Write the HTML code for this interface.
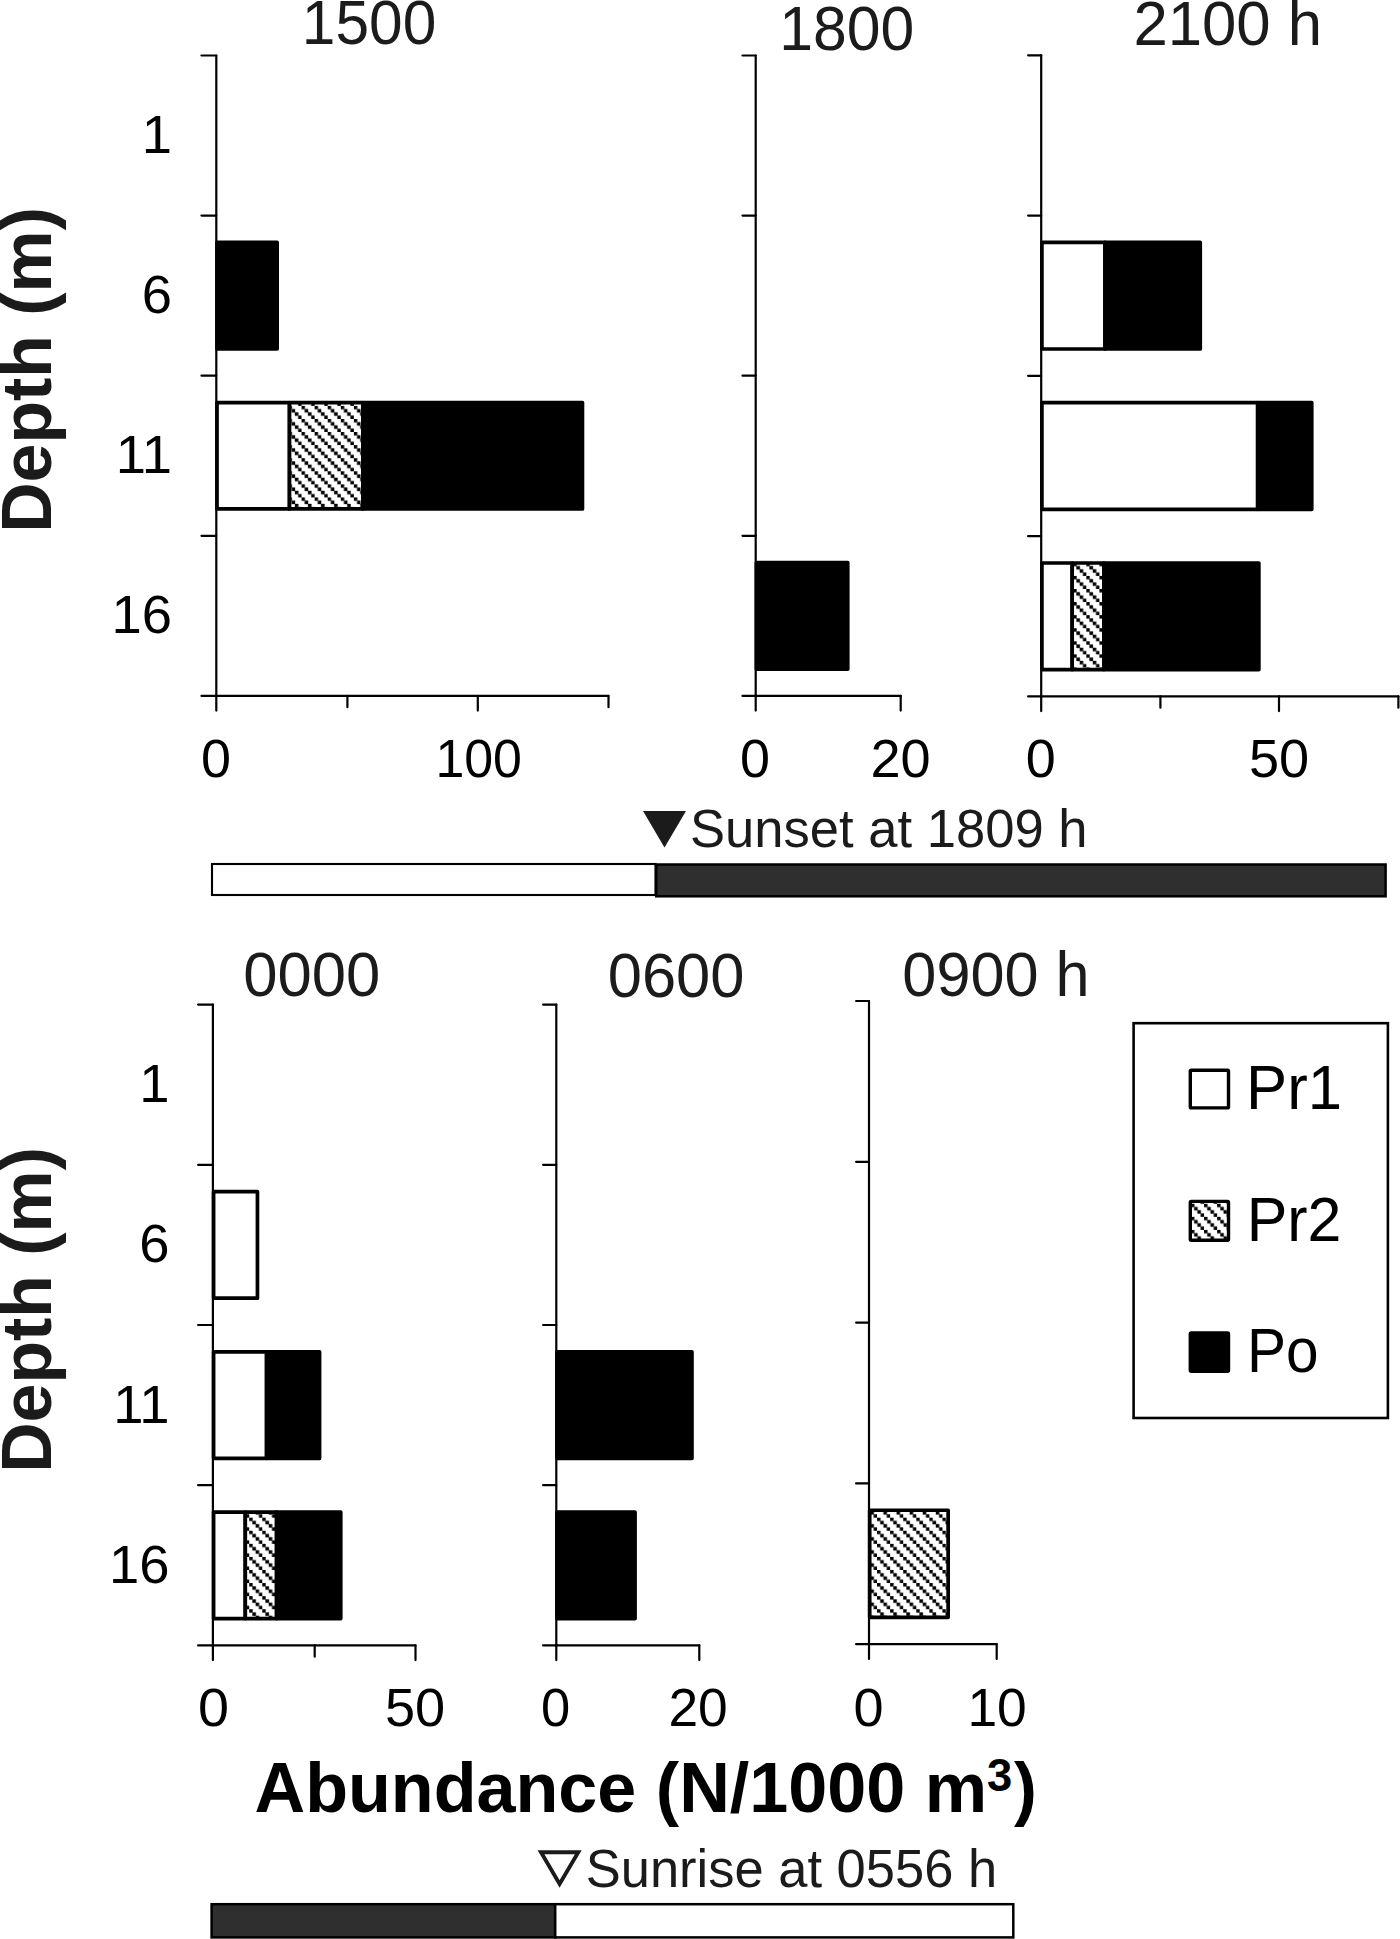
<!DOCTYPE html>
<html><head><meta charset="utf-8"><title>Depth distribution by time</title>
<style>html,body{margin:0;padding:0;background:#fff}svg{display:block}</style></head>
<body><svg width="1400" height="1939" viewBox="0 0 1400 1939">
<defs>
<pattern id="hatch" patternUnits="userSpaceOnUse" width="13.08" height="13.08" x="0.7" y="0.4"><rect width="13.08" height="13.08" fill="#fff"/><rect x="-0.150" y="-0.150" width="3.570" height="3.570" fill="#000"/><rect x="3.120" y="3.120" width="3.570" height="3.570" fill="#000"/><rect x="6.390" y="6.390" width="3.570" height="3.570" fill="#000"/><rect x="9.660" y="9.660" width="3.570" height="3.570" fill="#000"/><rect x="12.930" y="12.930" width="0.3" height="0.3" fill="#000"/></pattern>
</defs>
<rect width="1400" height="1939" fill="#fff"/>
<line x1="201.50" y1="55.50" x2="216.30" y2="55.50" stroke="#000" stroke-width="2.2" stroke-linecap="round"/>
<line x1="201.50" y1="215.60" x2="216.30" y2="215.60" stroke="#000" stroke-width="2.2" stroke-linecap="round"/>
<line x1="201.50" y1="375.70" x2="216.30" y2="375.70" stroke="#000" stroke-width="2.2" stroke-linecap="round"/>
<line x1="201.50" y1="535.80" x2="216.30" y2="535.80" stroke="#000" stroke-width="2.2" stroke-linecap="round"/>
<line x1="201.50" y1="695.90" x2="216.30" y2="695.90" stroke="#000" stroke-width="2.2" stroke-linecap="round"/>
<line x1="216.30" y1="695.90" x2="608.50" y2="695.90" stroke="#000" stroke-width="2.2" stroke-linecap="round"/>
<line x1="216.30" y1="695.90" x2="216.30" y2="710.60" stroke="#000" stroke-width="2.2" stroke-linecap="round"/>
<line x1="347.40" y1="695.90" x2="347.40" y2="707.20" stroke="#000" stroke-width="2.2" stroke-linecap="round"/>
<line x1="477.80" y1="695.90" x2="477.80" y2="710.60" stroke="#000" stroke-width="2.2" stroke-linecap="round"/>
<line x1="608.50" y1="695.90" x2="608.50" y2="707.20" stroke="#000" stroke-width="2.2" stroke-linecap="round"/>
<line x1="216.30" y1="55.50" x2="216.30" y2="695.90" stroke="#000" stroke-width="2.2" stroke-linecap="round"/>
<rect x="217.00" y="242.45" width="60.15" height="106.40" fill="#000" stroke="#000" stroke-width="3.7" stroke-linejoin="round"/>
<rect x="217.00" y="402.55" width="72.50" height="106.40" fill="#fff" stroke="#000" stroke-width="3.7" stroke-linejoin="round"/>
<rect x="289.50" y="402.55" width="73.40" height="106.40" fill="url(#hatch)" stroke="#000" stroke-width="3.7" stroke-linejoin="round"/>
<rect x="362.90" y="402.55" width="219.55" height="106.40" fill="#000" stroke="#000" stroke-width="3.7" stroke-linejoin="round"/>
<line x1="742.50" y1="55.50" x2="755.70" y2="55.50" stroke="#000" stroke-width="2.2" stroke-linecap="round"/>
<line x1="742.50" y1="215.60" x2="755.70" y2="215.60" stroke="#000" stroke-width="2.2" stroke-linecap="round"/>
<line x1="742.50" y1="375.70" x2="755.70" y2="375.70" stroke="#000" stroke-width="2.2" stroke-linecap="round"/>
<line x1="742.50" y1="535.80" x2="755.70" y2="535.80" stroke="#000" stroke-width="2.2" stroke-linecap="round"/>
<line x1="742.50" y1="695.90" x2="755.70" y2="695.90" stroke="#000" stroke-width="2.2" stroke-linecap="round"/>
<line x1="755.70" y1="695.90" x2="900.70" y2="695.90" stroke="#000" stroke-width="2.2" stroke-linecap="round"/>
<line x1="755.70" y1="695.90" x2="755.70" y2="710.60" stroke="#000" stroke-width="2.2" stroke-linecap="round"/>
<line x1="900.70" y1="695.90" x2="900.70" y2="710.60" stroke="#000" stroke-width="2.2" stroke-linecap="round"/>
<line x1="755.70" y1="55.50" x2="755.70" y2="695.90" stroke="#000" stroke-width="2.2" stroke-linecap="round"/>
<rect x="756.40" y="562.65" width="91.35" height="106.40" fill="#000" stroke="#000" stroke-width="3.7" stroke-linejoin="round"/>
<line x1="1028.10" y1="55.30" x2="1041.20" y2="55.30" stroke="#000" stroke-width="2.2" stroke-linecap="round"/>
<line x1="1028.10" y1="215.58" x2="1041.20" y2="215.58" stroke="#000" stroke-width="2.2" stroke-linecap="round"/>
<line x1="1028.10" y1="375.86" x2="1041.20" y2="375.86" stroke="#000" stroke-width="2.2" stroke-linecap="round"/>
<line x1="1028.10" y1="536.14" x2="1041.20" y2="536.14" stroke="#000" stroke-width="2.2" stroke-linecap="round"/>
<line x1="1028.10" y1="696.42" x2="1041.20" y2="696.42" stroke="#000" stroke-width="2.2" stroke-linecap="round"/>
<line x1="1041.20" y1="696.42" x2="1398.40" y2="696.42" stroke="#000" stroke-width="2.2" stroke-linecap="round"/>
<line x1="1041.20" y1="696.42" x2="1041.20" y2="711.12" stroke="#000" stroke-width="2.2" stroke-linecap="round"/>
<line x1="1160.40" y1="696.42" x2="1160.40" y2="707.72" stroke="#000" stroke-width="2.2" stroke-linecap="round"/>
<line x1="1279.00" y1="696.42" x2="1279.00" y2="711.12" stroke="#000" stroke-width="2.2" stroke-linecap="round"/>
<line x1="1398.40" y1="696.42" x2="1398.40" y2="707.72" stroke="#000" stroke-width="2.2" stroke-linecap="round"/>
<line x1="1041.20" y1="55.30" x2="1041.20" y2="696.42" stroke="#000" stroke-width="2.2" stroke-linecap="round"/>
<rect x="1041.90" y="242.43" width="63.10" height="106.58" fill="#fff" stroke="#000" stroke-width="3.7" stroke-linejoin="round"/>
<rect x="1105.00" y="242.43" width="95.25" height="106.58" fill="#000" stroke="#000" stroke-width="3.7" stroke-linejoin="round"/>
<rect x="1041.90" y="402.71" width="215.80" height="106.58" fill="#fff" stroke="#000" stroke-width="3.7" stroke-linejoin="round"/>
<rect x="1257.70" y="402.71" width="54.05" height="106.58" fill="#000" stroke="#000" stroke-width="3.7" stroke-linejoin="round"/>
<rect x="1041.90" y="562.99" width="30.30" height="106.58" fill="#fff" stroke="#000" stroke-width="3.7" stroke-linejoin="round"/>
<rect x="1072.20" y="562.99" width="31.70" height="106.58" fill="url(#hatch)" stroke="#000" stroke-width="3.7" stroke-linejoin="round"/>
<rect x="1103.90" y="562.99" width="154.95" height="106.58" fill="#000" stroke="#000" stroke-width="3.7" stroke-linejoin="round"/>
<line x1="198.10" y1="1004.60" x2="212.90" y2="1004.60" stroke="#000" stroke-width="2.2" stroke-linecap="round"/>
<line x1="198.10" y1="1164.80" x2="212.90" y2="1164.80" stroke="#000" stroke-width="2.2" stroke-linecap="round"/>
<line x1="198.10" y1="1325.00" x2="212.90" y2="1325.00" stroke="#000" stroke-width="2.2" stroke-linecap="round"/>
<line x1="198.10" y1="1485.20" x2="212.90" y2="1485.20" stroke="#000" stroke-width="2.2" stroke-linecap="round"/>
<line x1="198.10" y1="1645.40" x2="212.90" y2="1645.40" stroke="#000" stroke-width="2.2" stroke-linecap="round"/>
<line x1="212.90" y1="1645.40" x2="415.50" y2="1645.40" stroke="#000" stroke-width="2.2" stroke-linecap="round"/>
<line x1="212.90" y1="1645.40" x2="212.90" y2="1660.10" stroke="#000" stroke-width="2.2" stroke-linecap="round"/>
<line x1="314.70" y1="1645.40" x2="314.70" y2="1656.70" stroke="#000" stroke-width="2.2" stroke-linecap="round"/>
<line x1="415.50" y1="1645.40" x2="415.50" y2="1660.10" stroke="#000" stroke-width="2.2" stroke-linecap="round"/>
<line x1="212.90" y1="1004.60" x2="212.90" y2="1645.40" stroke="#000" stroke-width="2.2" stroke-linecap="round"/>
<rect x="213.60" y="1191.65" width="43.85" height="106.50" fill="#fff" stroke="#000" stroke-width="3.7" stroke-linejoin="round"/>
<rect x="213.60" y="1351.85" width="53.00" height="106.50" fill="#fff" stroke="#000" stroke-width="3.7" stroke-linejoin="round"/>
<rect x="266.60" y="1351.85" width="52.95" height="106.50" fill="#000" stroke="#000" stroke-width="3.7" stroke-linejoin="round"/>
<rect x="213.60" y="1512.05" width="31.70" height="106.50" fill="#fff" stroke="#000" stroke-width="3.7" stroke-linejoin="round"/>
<rect x="245.30" y="1512.05" width="31.30" height="106.50" fill="url(#hatch)" stroke="#000" stroke-width="3.7" stroke-linejoin="round"/>
<rect x="276.60" y="1512.05" width="64.15" height="106.50" fill="#000" stroke="#000" stroke-width="3.7" stroke-linejoin="round"/>
<line x1="543.10" y1="1004.60" x2="556.30" y2="1004.60" stroke="#000" stroke-width="2.2" stroke-linecap="round"/>
<line x1="543.10" y1="1164.80" x2="556.30" y2="1164.80" stroke="#000" stroke-width="2.2" stroke-linecap="round"/>
<line x1="543.10" y1="1325.00" x2="556.30" y2="1325.00" stroke="#000" stroke-width="2.2" stroke-linecap="round"/>
<line x1="543.10" y1="1485.20" x2="556.30" y2="1485.20" stroke="#000" stroke-width="2.2" stroke-linecap="round"/>
<line x1="543.10" y1="1645.40" x2="556.30" y2="1645.40" stroke="#000" stroke-width="2.2" stroke-linecap="round"/>
<line x1="556.30" y1="1645.40" x2="699.30" y2="1645.40" stroke="#000" stroke-width="2.2" stroke-linecap="round"/>
<line x1="556.30" y1="1645.40" x2="556.30" y2="1660.10" stroke="#000" stroke-width="2.2" stroke-linecap="round"/>
<line x1="699.30" y1="1645.40" x2="699.30" y2="1660.10" stroke="#000" stroke-width="2.2" stroke-linecap="round"/>
<line x1="556.30" y1="1004.60" x2="556.30" y2="1645.40" stroke="#000" stroke-width="2.2" stroke-linecap="round"/>
<rect x="557.00" y="1351.85" width="134.95" height="106.50" fill="#000" stroke="#000" stroke-width="3.7" stroke-linejoin="round"/>
<rect x="557.00" y="1512.05" width="78.05" height="106.50" fill="#000" stroke="#000" stroke-width="3.7" stroke-linejoin="round"/>
<line x1="856.10" y1="1001.00" x2="869.00" y2="1001.00" stroke="#000" stroke-width="2.2" stroke-linecap="round"/>
<line x1="856.10" y1="1161.80" x2="869.00" y2="1161.80" stroke="#000" stroke-width="2.2" stroke-linecap="round"/>
<line x1="856.10" y1="1322.60" x2="869.00" y2="1322.60" stroke="#000" stroke-width="2.2" stroke-linecap="round"/>
<line x1="856.10" y1="1483.40" x2="869.00" y2="1483.40" stroke="#000" stroke-width="2.2" stroke-linecap="round"/>
<line x1="856.10" y1="1644.20" x2="869.00" y2="1644.20" stroke="#000" stroke-width="2.2" stroke-linecap="round"/>
<line x1="869.00" y1="1644.20" x2="996.70" y2="1644.20" stroke="#000" stroke-width="2.2" stroke-linecap="round"/>
<line x1="869.00" y1="1644.20" x2="869.00" y2="1658.90" stroke="#000" stroke-width="2.2" stroke-linecap="round"/>
<line x1="996.70" y1="1644.20" x2="996.70" y2="1658.90" stroke="#000" stroke-width="2.2" stroke-linecap="round"/>
<line x1="869.00" y1="1001.00" x2="869.00" y2="1644.20" stroke="#000" stroke-width="2.2" stroke-linecap="round"/>
<rect x="869.70" y="1510.25" width="78.45" height="107.10" fill="url(#hatch)" stroke="#000" stroke-width="3.7" stroke-linejoin="round"/>
<rect x="212.0" y="864.0" width="443.5" height="31.0" fill="#fff" stroke="#000" stroke-width="2.1"/>
<rect x="656.2" y="864.5" width="729.4" height="31.8" fill="#2f2f2f" stroke="#000" stroke-width="2.5"/>
<polygon points="643,811 686,811 664.5,847.5" fill="#1b1b1b"/>
<rect x="211.6" y="1904.2" width="343.6" height="33.2" fill="#2f2f2f" stroke="#000" stroke-width="2.5"/>
<rect x="555.2" y="1904.2" width="458.1" height="33.2" fill="#fff" stroke="#000" stroke-width="2.5"/>
<polygon points="541.0,1852.2 578.3,1852.2 559.6,1884.0" fill="none" stroke="#1b1b1b" stroke-width="3.9" stroke-linejoin="miter"/>
<rect x="1133.6" y="1023.2" width="254.3" height="394.8" fill="#fff" stroke="#000" stroke-width="2.6"/>
<rect x="1190.30" y="1070.20" width="38.20" height="37.70" fill="#fff" stroke="#000" stroke-width="3.4" rx="1"/>
<rect x="1190.30" y="1201.40" width="38.20" height="38.80" fill="url(#hatch)" stroke="#000" stroke-width="3.4" rx="1"/>
<rect x="1190.30" y="1332.90" width="38.20" height="38.40" fill="#000" stroke="#000" stroke-width="3.4" rx="1"/>
<g font-family='"Liberation Sans", sans-serif'>
<text x="301.83" y="43.70" font-size="62.5" font-weight="normal" fill="#1b1b1b" textLength="134.45" lengthAdjust="spacingAndGlyphs">1500</text>
<text x="779.21" y="49.90" font-size="62.3" font-weight="normal" fill="#1b1b1b" textLength="134.95" lengthAdjust="spacingAndGlyphs">1800</text>
<text x="1133.43" y="44.70" font-size="62.3" font-weight="normal" fill="#1b1b1b" textLength="188.68" lengthAdjust="spacingAndGlyphs">2100 h</text>
<text x="243.25" y="996.20" font-size="63" font-weight="normal" fill="#1b1b1b" textLength="136.96" lengthAdjust="spacingAndGlyphs">0000</text>
<text x="607.76" y="997.10" font-size="63.2" font-weight="normal" fill="#1b1b1b" textLength="136.68" lengthAdjust="spacingAndGlyphs">0600</text>
<text x="902.35" y="996.20" font-size="62.7" font-weight="normal" fill="#1b1b1b" textLength="187.32" lengthAdjust="spacingAndGlyphs">0900 h</text>
<text x="690.03" y="846.70" font-size="53.5" font-weight="normal" fill="#1b1b1b" textLength="397.47" lengthAdjust="spacingAndGlyphs">Sunset at 1809 h</text>
<text x="585.71" y="1887.30" font-size="54.5" font-weight="normal" fill="#1b1b1b" textLength="411.39" lengthAdjust="spacingAndGlyphs">Sunrise at 0556 h</text>
<text x="254.50" y="1811.90" font-size="70" font-weight="bold" fill="#000" textLength="732.62" lengthAdjust="spacingAndGlyphs">Abundance (N/1000 m</text>
<text x="986.93" y="1791.30" font-size="47" font-weight="bold" fill="#000" textLength="25.27" lengthAdjust="spacingAndGlyphs">3</text>
<text x="1013.90" y="1811.90" font-size="70" font-weight="bold" fill="#000" textLength="22.85" lengthAdjust="spacingAndGlyphs">)</text>
<text x="1246.11" y="1109.20" font-size="63" font-weight="normal" fill="#000" textLength="95.98" lengthAdjust="spacingAndGlyphs">Pr1</text>
<text x="1246.77" y="1240.70" font-size="63" font-weight="normal" fill="#000" textLength="94.67" lengthAdjust="spacingAndGlyphs">Pr2</text>
<text x="1246.96" y="1372.30" font-size="63" font-weight="normal" fill="#000" textLength="71.56" lengthAdjust="spacingAndGlyphs">Po</text>
<text x="201.02" y="776.80" font-size="54.5" font-weight="normal" fill="#000" textLength="29.98" lengthAdjust="spacingAndGlyphs">0</text>
<text x="435.39" y="776.80" font-size="54.5" font-weight="normal" fill="#000" textLength="86.55" lengthAdjust="spacingAndGlyphs">100</text>
<text x="740.02" y="776.80" font-size="54.5" font-weight="normal" fill="#000" textLength="29.98" lengthAdjust="spacingAndGlyphs">0</text>
<text x="870.41" y="776.80" font-size="54.5" font-weight="normal" fill="#000" textLength="60.20" lengthAdjust="spacingAndGlyphs">20</text>
<text x="1025.82" y="776.80" font-size="54.5" font-weight="normal" fill="#000" textLength="29.98" lengthAdjust="spacingAndGlyphs">0</text>
<text x="1249.01" y="776.80" font-size="54.5" font-weight="normal" fill="#000" textLength="60.20" lengthAdjust="spacingAndGlyphs">50</text>
<text x="197.96" y="1725.90" font-size="54.5" font-weight="normal" fill="#000" textLength="30.99" lengthAdjust="spacingAndGlyphs">0</text>
<text x="385.01" y="1725.90" font-size="54.5" font-weight="normal" fill="#000" textLength="60.20" lengthAdjust="spacingAndGlyphs">50</text>
<text x="541.07" y="1725.90" font-size="54.5" font-weight="normal" fill="#000" textLength="29.19" lengthAdjust="spacingAndGlyphs">0</text>
<text x="668.44" y="1725.90" font-size="54.5" font-weight="normal" fill="#000" textLength="59.35" lengthAdjust="spacingAndGlyphs">20</text>
<text x="853.41" y="1725.90" font-size="54.5" font-weight="normal" fill="#000" textLength="30.09" lengthAdjust="spacingAndGlyphs">0</text>
<text x="967.38" y="1725.90" font-size="54.5" font-weight="normal" fill="#000" textLength="59.41" lengthAdjust="spacingAndGlyphs">10</text>
<text x="172.10" y="152.80" font-size="54.4" text-anchor="end" fill="#000">1</text>
<text x="172.10" y="312.90" font-size="54.4" text-anchor="end" fill="#000">6</text>
<text x="172.10" y="473.00" font-size="54.4" text-anchor="end" fill="#000">11</text>
<text x="172.10" y="633.10" font-size="54.4" text-anchor="end" fill="#000">16</text>
<text x="169.60" y="1102.20" font-size="54.4" text-anchor="end" fill="#000">1</text>
<text x="169.60" y="1262.40" font-size="54.4" text-anchor="end" fill="#000">6</text>
<text x="169.60" y="1422.60" font-size="54.4" text-anchor="end" fill="#000">11</text>
<text x="169.60" y="1582.80" font-size="54.4" text-anchor="end" fill="#000">16</text>
<text transform="translate(51.30,532.86) rotate(-90)" x="0" y="0" font-size="70.5" font-weight="bold" fill="#1b1b1b" textLength="325.80" lengthAdjust="spacingAndGlyphs">Depth (m)</text>
<text transform="translate(51.30,1472.86) rotate(-90)" x="0" y="0" font-size="70.5" font-weight="bold" fill="#1b1b1b" textLength="325.80" lengthAdjust="spacingAndGlyphs">Depth (m)</text>
</g>
</svg></body></html>
